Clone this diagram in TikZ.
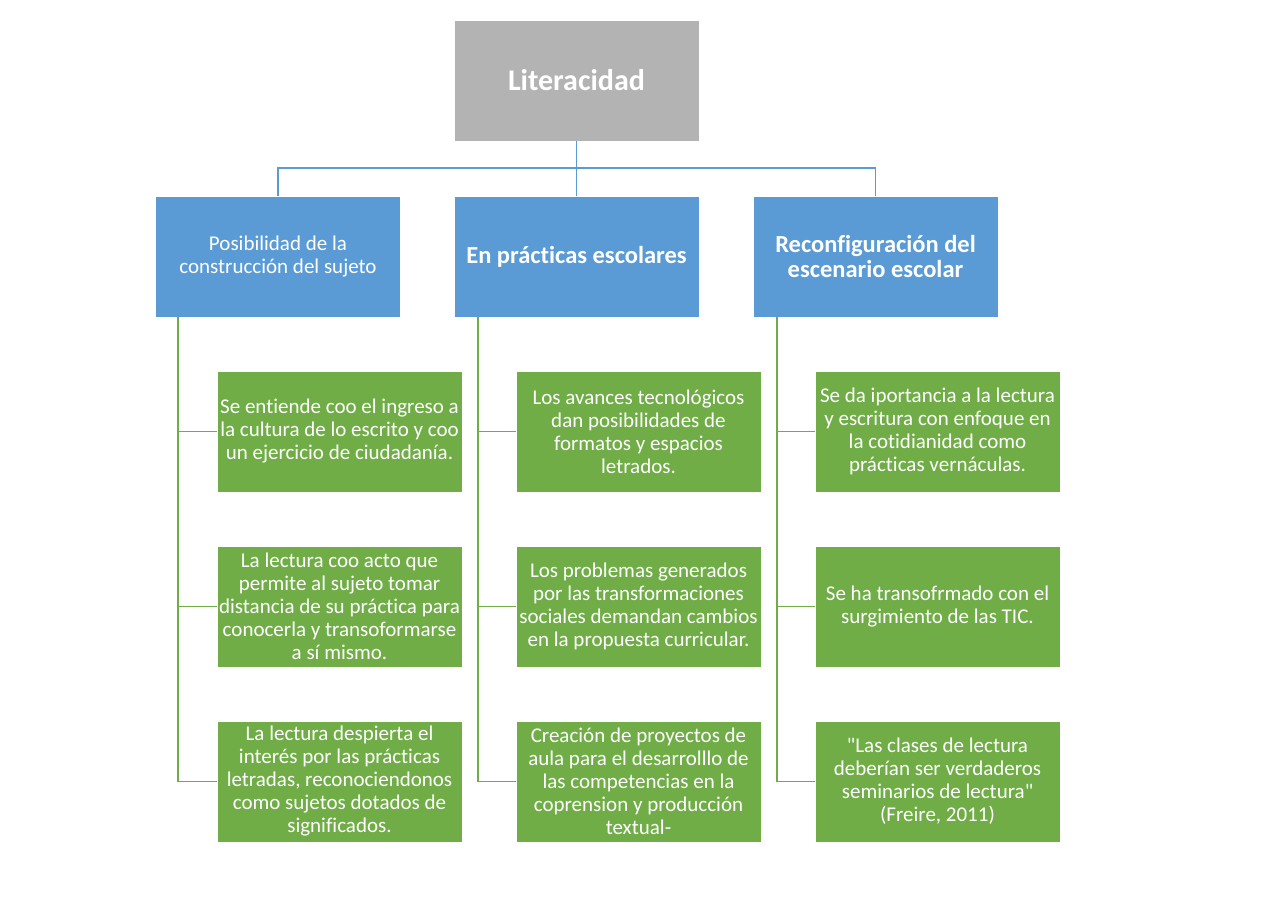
\documentclass[tikz,border=0pt]{standalone}
\usepackage{fontspec}
\setmainfont{Carlito}[Ligatures={NoCommon,TeXOff}]
\definecolor{rootgray}{HTML}{B3B3B3}
\definecolor{lblue}{HTML}{5B9BD5}
\definecolor{lgreen}{HTML}{70AD47}
\begin{document}
\begin{tikzpicture}[x=1pt,y=-1pt,
  box/.style={rectangle,draw=white,line width=0.8pt,minimum width=245pt,minimum height=121pt,inner sep=0pt,align=center,text=white},
  rootbox/.style={box,fill=rootgray,font=\fontsize{30}{34}\selectfont\bfseries},
  catbox/.style={box,fill=lblue,font=\fontsize{21}{23}\selectfont},
  catboxb/.style={box,fill=lblue,font=\fontsize{24.5}{25}\selectfont\bfseries},
  itembox/.style={box,fill=lgreen,font=\fontsize{21}{23}\selectfont},
  bline/.style={draw=lblue,line width=1.6pt},
  gline/.style={draw=lgreen,line width=1.6pt}]
\useasboundingbox (0,0) rectangle (1280,905);
\fill[white] (0,0) rectangle (1280,905);

\node[rootbox] (root) at (576.5,80.5) {Literacidad};

\node[catbox] (ca) at (278,256.5) {Posibilidad de la\\construcción del sujeto};
\node[catboxb] (cb) at (576.5,256.5) {En prácticas escolares};
\node[catboxb] (cc) at (875.5,256.5) {Reconfiguración del\\escenario escolar};

\node[itembox] (a1) at (339.5,431.5) {Se entiende coo el ingreso a\\la cultura de lo escrito y coo\\un ejercicio de ciudadanía.};
\node[itembox] (a2) at (339.5,606.5) {La lectura coo acto que\\permite al sujeto tomar\\distancia de su práctica para\\conocerla y transoformarse\\a sí mismo.};
\node[itembox] (a3) at (339.5,781.5) {La lectura despierta el\\interés por las prácticas\\letradas, reconociendonos\\como sujetos dotados de\\significados.};

\node[itembox] (b1) at (638.5,431.5) {Los avances tecnológicos\\dan posibilidades de\\formatos y espacios\\letrados.};
\node[itembox] (b2) at (638.5,606.5) {Los problemas generados\\por las transformaciones\\sociales demandan cambios\\en la propuesta curricular.};
\node[itembox] (b3) at (638.5,781.5) {Creación de proyectos de\\aula para el desarrolllo de\\las competencias en la\\coprension y producción\\textual-};

\node[itembox] (c1) at (937.5,431.5) {Se da iportancia a la lectura\\y escritura con enfoque en\\la cotidianidad como\\prácticas vernáculas.};
\node[itembox] (c2) at (937.5,606.5) {Se ha transofrmado con el\\surgimiento de las TIC.};
\node[itembox] (c3) at (937.5,781.5) {"Las clases de lectura\\deberían ser verdaderos\\seminarios de lectura"\\(Freire, 2011)};

% blue connectors
\coordinate (bus) at (577,168);
\draw[bline] (root.south) -- (cb.north);
\draw[bline] (ca.north) -- (ca.north |- bus) -- (cc.north |- bus) -- (cc.north);

% green connectors
\coordinate (ta) at (178,317);
\coordinate (tb) at (478,317);
\coordinate (tc) at (777,317);
\draw[gline] (ta) |- (a3.west);
\draw[gline] (ta |- a1.west) -- (a1.west);
\draw[gline] (ta |- a2.west) -- (a2.west);
\draw[gline] (tb) |- (b3.west);
\draw[gline] (tb |- b1.west) -- (b1.west);
\draw[gline] (tb |- b2.west) -- (b2.west);
\draw[gline] (tc) |- (c3.west);
\draw[gline] (tc |- c1.west) -- (c1.west);
\draw[gline] (tc |- c2.west) -- (c2.west);
\end{tikzpicture}
\end{document}
